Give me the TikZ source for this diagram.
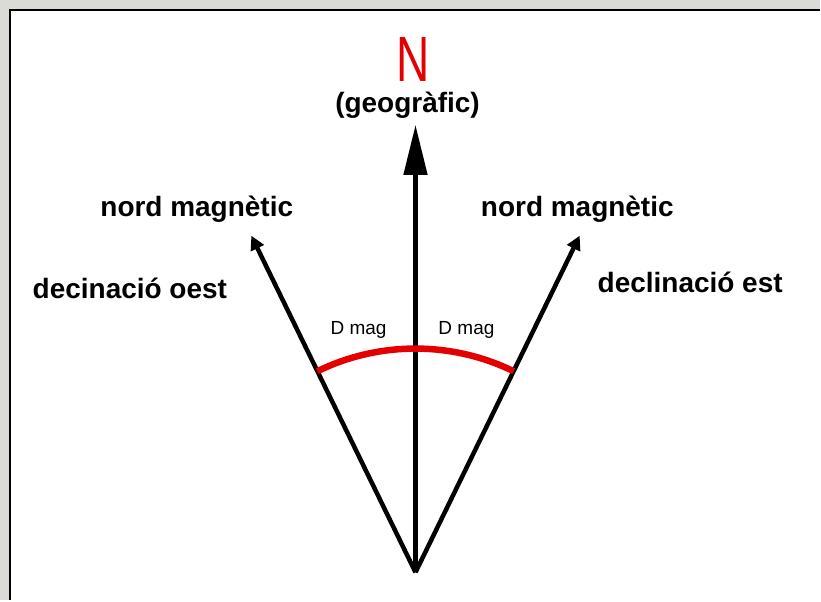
\documentclass[tikz,border=0pt]{standalone}
\usepackage{fontspec}
\setmainfont{Liberation Sans}
\usetikzlibrary{arrows.meta, positioning}
\definecolor{decred}{RGB}{228,0,0}
\definecolor{paper}{RGB}{218,218,214}
\begin{document}
\begin{tikzpicture}[x=1pt, y=1pt,
   needle/.style={line width=4.5pt, -{Triangle[length=14pt, width=14pt]}},
   mainneedle/.style={line width=4.5pt, -{Triangle[length=50pt, width=23pt]}},
   lbl/.style={font=\bfseries\fontsize{28}{30}\selectfont, anchor=base, inner sep=0pt},
   dmag/.style={font=\fontsize{19}{20}\selectfont, anchor=base, inner sep=0pt}]

   \fill[paper] (0,0) rectangle (821,601);
   \fill[white] (9,0) rectangle (821,592);
   \draw[line width=2pt] (10,0) -- (10,591) -- (821,591);
   \useasboundingbox (0,0) rectangle (821,601);

   \coordinate (o) at (416,28);
   \coordinate (ng) at (416,476);
   \coordinate (nw) at ([shift={(116:375)}]o);
   \coordinate (ne) at ([shift={(64:375)}]o);

   \draw[mainneedle] (o) -- (ng);
   \draw[needle] (o) -- (nw);
   \draw[needle] (o) -- (ne);
   \draw[decred, line width=6.5pt] ([shift={(116:224)}]o) arc[start angle=116, end angle=64, radius=224];

   \node[font=\fontsize{64}{64}\selectfont, text=decred, xscale=0.72, anchor=base, inner sep=0pt, text depth=0pt] (n) at (414,519) {N};
   \node[lbl] (geo) at (408,488) {(geogràfic)};
   \node[lbl] (nwlabel) at (197,384) {nord magnètic};
   \node[lbl] (nelabel) at (578,384) {nord magnètic};
   \node[lbl] (west) at (130,302) {decinació oest};
   \node[lbl] (east) at (691,308) {declinació est};
   \node[dmag] (dw) at (359,266) {D mag};
   \node[dmag] (de) at (467,266) {D mag};

\end{tikzpicture}
\end{document}
